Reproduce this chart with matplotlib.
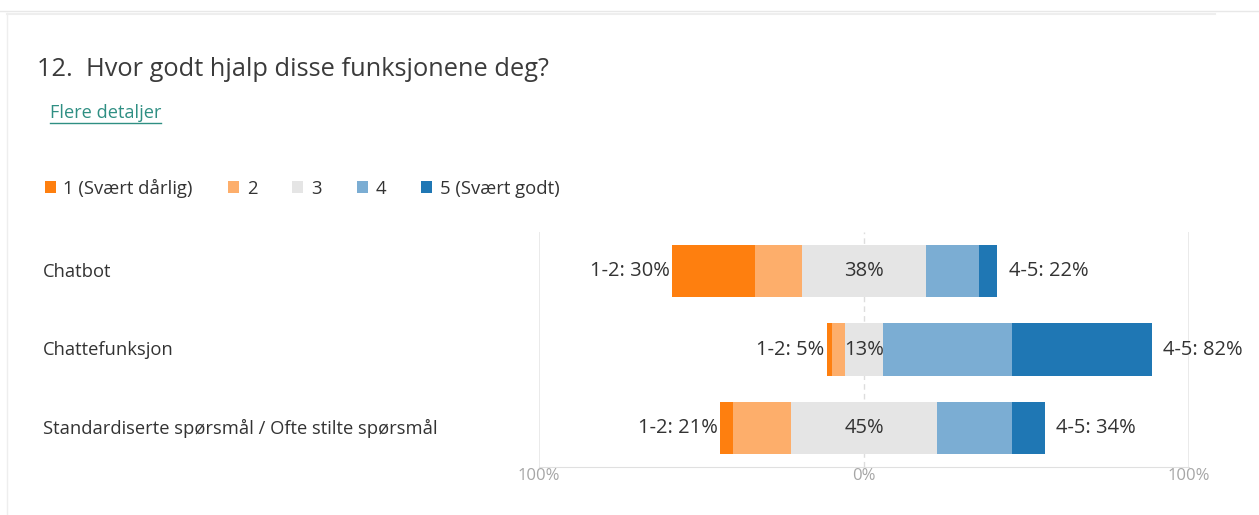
import numpy as np
import matplotlib.pyplot as plt
from matplotlib.patches import Patch

plt.rcParams['font.family'] = ['Open Sans', 'DejaVu Sans']

categories = ['Chatbot', 'Chattefunksjon', 'Standardiserte spørsmål / Ofte stilte spørsmål']
levels = ['1 (Svært dårlig)', '2', '3', '4', '5 (Svært godt)']
# share of answers per level (percent)
v1 = [25.4, 1.5, 4.1]
v2 = [14.6, 4.0, 17.7]
v3 = [37.9, 11.9, 44.9]
v4 = [16.3, 39.6, 23.1]
v5 = [5.8, 43.0, 10.2]
low_labels = ['1-2: 30%', '1-2: 5%', '1-2: 21%']
mid_labels = ['38%', '13%', '45%']
high_labels = ['4-5: 22%', '4-5: 82%', '4-5: 34%']
ticks = [-100, 0, 100]
tick_labels = ['100%', '0%', '100%']

colors = ['#fe7f0f', '#fdae6b', '#e5e5e5', '#7badd3', '#1f77b4']
txt = '#333333'

fig = plt.figure(figsize=(12.59, 5.15), dpi=100)
ax = fig.add_axes([0.4281, 0.0932, 0.5163, 0.4563])

y = np.arange(len(categories))
vals = np.array([v1, v2, v3, v4, v5])
left = -vals[0] - vals[1] - vals[2] / 2
for i in range(5):
    ax.barh(y, vals[i], left=left, height=0.67, color=colors[i], zorder=3)
    left = left + vals[i]
start = -vals[0] - vals[1] - vals[2] / 2
end = start + vals.sum(axis=0)

for k in range(len(categories)):
    ax.annotate(low_labels[k], (start[k], y[k]), xytext=(-2, 0), textcoords='offset points',
                ha='right', va='center', fontsize=14.5, color=txt, zorder=4)
    ax.text(0, y[k], mid_labels[k], ha='center', va='center', fontsize=14.5, color=txt, zorder=4)
    ax.annotate(high_labels[k], (end[k], y[k]), xytext=(8, 0), textcoords='offset points',
                ha='left', va='center', fontsize=14.5, color=txt, zorder=4)

ax.set_xlim(-100, 100)
ax.set_ylim(2.5, -0.5)
ax.axvline(0, color='#dddddd', lw=1, ls=(0, (4, 3)), zorder=1)
ax.axvline(-100, color='#e6e6e6', lw=1.2, zorder=1)
ax.axvline(100, color='#e6e6e6', lw=1.2, zorder=1)
for s in ax.spines.values():
    s.set_visible(False)
ax.spines['bottom'].set_visible(True)
ax.spines['bottom'].set_color('#e0e0e0')
ax.set_xticks(ticks)
ax.set_xticklabels(tick_labels, fontsize=12, color='#a6a6a6')
ax.tick_params(axis='x', length=0, pad=1)
ax.set_yticks([])

for k, c in enumerate(categories):
    fig.text(43 / 1259, 1 - (272 + 78 * k) / 515, c, ha='left', va='center', fontsize=13.2, color=txt)

fig.text(37 / 1259, 1 - 70 / 515, '12.  Hvor godt hjalp disse funksjonene deg?', ha='left', va='center',
         fontsize=18.3, color='#3b3b3b')
fig.text(50 / 1259, 1 - 113 / 515, 'Flere detaljer', ha='left', va='center', fontsize=13.1,
         color='#2f8f83')
fig.add_artist(plt.Line2D([50 / 1259, 161 / 1259], [1 - 123 / 515] * 2, color='#2f8f83', lw=1))

handles = [Patch(facecolor=c) for c in colors]
fig.legend(handles, levels, loc='center left', bbox_to_anchor=(28 / 1259, 1 - 188 / 515), ncol=5,
           frameon=False, fontsize=13.3, handlelength=0.6, handleheight=0.6, handletextpad=0.42,
           columnspacing=1.9, labelcolor=txt)

# card border
fig.add_artist(plt.Line2D([0, 1], [1 - 11 / 515] * 2, color='#e8e8e8', lw=1))
fig.add_artist(plt.Line2D([7 / 1259, 1215 / 1259], [1 - 14 / 515] * 2, color='#eeeeee', lw=1.5))
fig.add_artist(plt.Line2D([7 / 1259] * 2, [0, 1 - 13 / 515], color='#eeeeee', lw=1))

fig.savefig('out.png', dpi=100)
